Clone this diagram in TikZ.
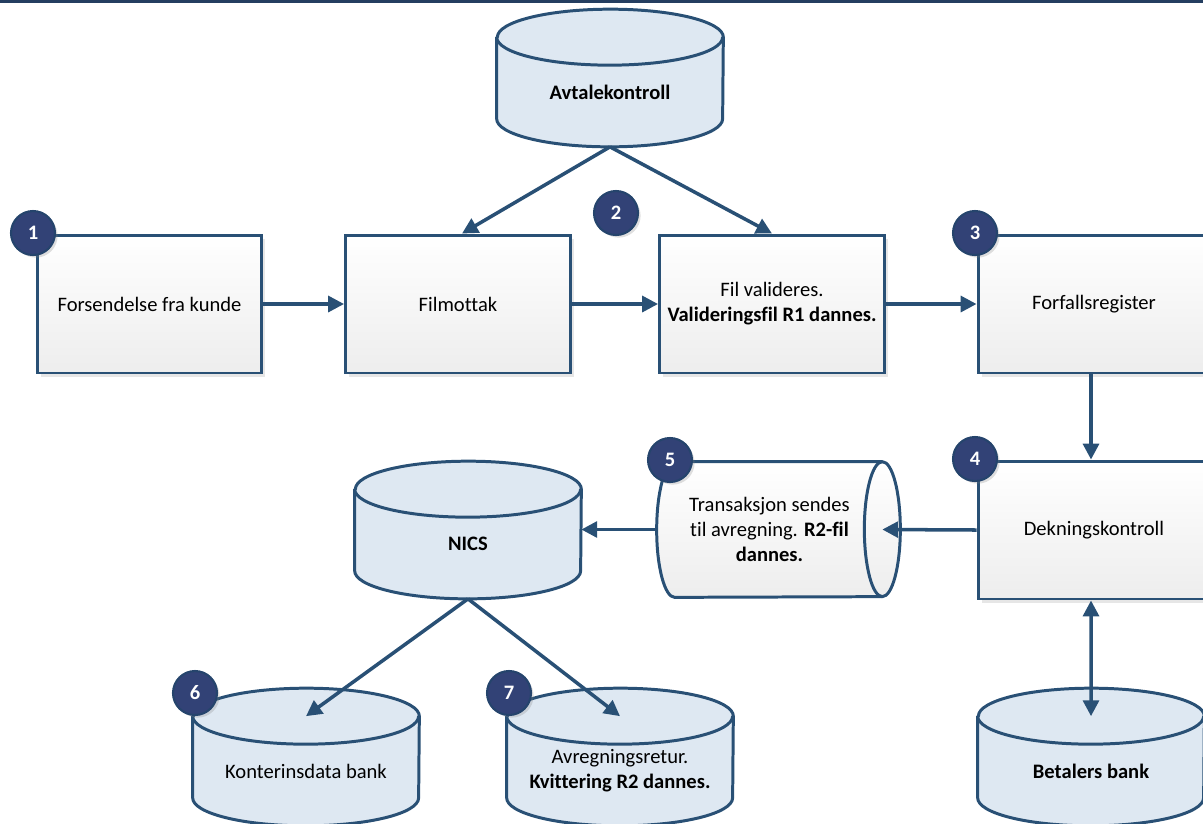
\documentclass[tikz,border=0pt]{standalone}
\usepackage{fontspec}
\setmainfont{Carlito}[Ligatures=NoCommon]
\usepackage{tikz}
\usetikzlibrary{arrows.meta,shadows,backgrounds}

\definecolor{linje}{RGB}{41,80,117}
\definecolor{topplinje}{RGB}{36,62,96}
\definecolor{sylfyll}{RGB}{222,232,242}
\definecolor{merke}{RGB}{50,66,118}
\definecolor{merkekant}{RGB}{37,68,108}

% staaende database rundt en navngitt node (toppellipse i .north)
\newcommand{\staaende}[1]{%
  \filldraw[sylkant, fill=sylfyll] (#1.north west) -- ([yshift=0.56cm]#1.south west)
    arc[start angle=180, end angle=360, x radius=2.26cm, y radius=0.56cm]
    -- (#1.north east)
    arc[start angle=0, end angle=180, x radius=2.26cm, y radius=0.56cm] -- cycle;
  \draw[sylkant] (#1.north west) arc[start angle=180, end angle=360, x radius=2.26cm, y radius=0.56cm];
}
% liggende database (endeflate i .east)
\newcommand{\liggende}[1]{%
  \filldraw[sylkant, top color=white, bottom color=black!7] ([xshift=0.36cm]#1.north west) -- (#1.north east)
    arc[start angle=90, end angle=-90, x radius=0.36cm, y radius=1.35cm]
    -- ([xshift=0.36cm]#1.south west)
    arc[start angle=270, end angle=90, x radius=0.36cm, y radius=1.35cm] -- cycle;
  \draw[sylkant] (#1.north east) arc[start angle=90, end angle=270, x radius=0.36cm, y radius=1.35cm];
}

\begin{document}
\begin{tikzpicture}[
    x=0.02cm, y=-0.02cm,
    every node/.style={font=\fontsize{11.7}{14.2}\selectfont},
    box/.style={rectangle, draw=linje, line width=1.7pt, top color=white, bottom color=black!7, minimum width=4.5cm, minimum height=2.76cm, align=center, drop shadow={shadow xshift=2pt, shadow yshift=-2pt, opacity=0.2}},
    sylkant/.style={draw=linje, line width=1.7pt, line join=round},
    syl/.style={rectangle, minimum width=4.52cm, minimum height=2.18cm, inner sep=0pt, align=center},
    trommel/.style={rectangle, minimum width=4.5cm, minimum height=2.7cm, inner sep=0pt, align=center},
    badge/.style={circle, draw=merkekant, line width=1.2pt, fill=merke, text=white, font=\fontsize{11.7}{14}\selectfont\bfseries, minimum size=0.88cm, inner sep=0pt, drop shadow={shadow xshift=1.5pt, shadow yshift=-1.5pt, opacity=0.25}},
    arrow/.style={-{Triangle[length=9pt,width=9pt]}, line width=2pt, draw=linje},
    dobbel/.style={arrow, {Triangle[length=9pt,width=9pt]}-{Triangle[length=9pt,width=9pt]}}
]
\useasboundingbox (0,0) rectangle (1203,823);
\fill[topplinje] (0,0) rectangle (1203,3);

% Prosessbokser
\node[box] (forsendelse) at (149.5,304) {Forsendelse fra kunde};
\node[box] (filmottak) at (458,304) {Filmottak};
\node[box] (validering) at (772,304) {Fil valideres.\\\textbf{Valideringsfil R1 dannes.}};
\node[box, minimum width=4.64cm] (forfall) at (1094,304) {Forfallsregister};
\node[box, minimum width=4.64cm] (dekning) at (1094,530) {Dekningskontroll};

% Databaser
\node[syl] (avtale) at (610,92) {\textbf{Avtalekontroll}};
\node[syl] (nics) at (468,544) {\textbf{NICS}};
\node[syl] (konter) at (306,771) {Konterinsdata bank};
\node[syl] (avreg) at (620,771) {Avregningsretur.\\\textbf{Kvittering R2 dannes.}};
\node[syl] (betaler) at (1091,771) {\textbf{Betalers bank}};
\node[trommel] (trans) at (769.5,529.5) {Transaksjon sendes\\til avregning. \textbf{R2-fil}\\\textbf{dannes.}};

\begin{scope}[on background layer]
\staaende{avtale}
\staaende{nics}
\staaende{konter}
\staaende{avreg}
\staaende{betaler}
\liggende{trans}
\end{scope}

% Piler
\draw[arrow] (forsendelse) -- (filmottak);
\draw[arrow] (filmottak) -- (validering);
\draw[arrow] (validering) -- (forfall);
\draw[arrow] (avtale.south) -- ([xshift=0.08cm]filmottak.north);
\draw[arrow] (avtale.south) -- (validering.north);
\draw[arrow] ([xshift=-0.06cm]forfall.south) -- ([xshift=-0.06cm]dekning.north);
\draw[arrow] (dekning.west) -- (trans.east);
\draw[arrow] (trans.west) -- (trans.west -| nics.east);
\draw[arrow] (nics.south) -- (konter.north);
\draw[arrow] (nics.south) -- (avreg.north);
\draw[dobbel] ([xshift=-0.06cm]dekning.south) -- (betaler.north);

% Nummerering
\node[badge] (m1) at (33,233) {1};
\node[badge] (m2) at (616,213) {2};
\node[badge] (m3) at (975,233) {3};
\node[badge] (m4) at (975,459) {4};
\node[badge] (m5) at (670,460) {5};
\node[badge] (m6) at (195,693) {6};
\node[badge] (m7) at (509,693) {7};

\end{tikzpicture}
\end{document}
